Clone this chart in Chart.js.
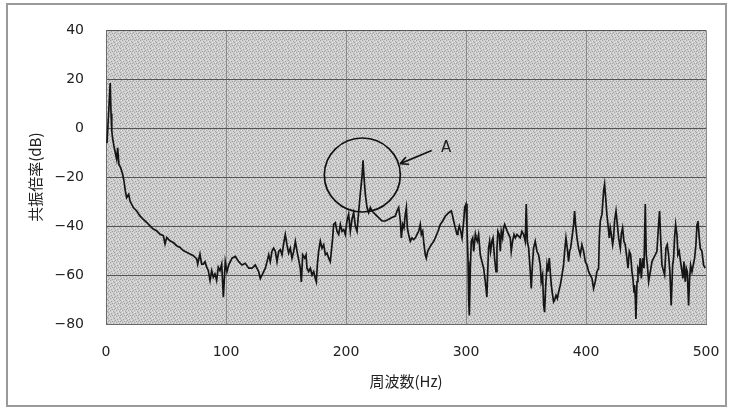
<!DOCTYPE html>
<html>
<head>
<meta charset="utf-8">
<script src="https://cdn.jsdelivr.net/npm/chart.js@4.4.0/dist/chart.umd.min.js"></script>
<style>
  html, body { margin: 0; padding: 0; background: #fff; }
  canvas { display: block; }
</style>
</head>
<body>
<canvas id="myChart" width="733" height="414"></canvas>
<script>
// frequency (Hz) and resonance magnification (dB)
var freqHz = [
    0.8, 1.6, 2.5, 3.5, 4.2, 4.8, 5.5, 6.5, 7.5, 8.9, 9.7, 10.8, 12.2, 13.9, 15.0, 16.1, 17.2, 18.9, 20,
    22.8, 25.6, 28.3, 31.1, 33.9, 36.7, 39.4, 42.2, 45, 47.8, 49.2, 50.6, 53.3, 56.1, 58.9, 61.7, 64.4,
    67.2, 70, 72.8, 75.6, 76.4, 78.3, 79.7, 81.1, 82.5, 83.9, 85.3, 86.7, 88.1, 89.4, 90.8, 92.2, 93.6,
    95, 96.4, 97.8, 99.4, 100.8, 102.2, 105, 107.8, 110.6, 113.3, 116.1, 118.9, 121.7, 124.4, 127.2,
    128.6, 130, 131.4, 132.8, 134.2, 135.6, 136.9, 138.3, 139.7, 141.1, 142.5, 143.9, 145.3, 146.7,
    148.1, 149.4, 150.8, 152.2, 153.6, 155, 156.4, 157.8, 159.2, 160.6, 161.9, 162.8, 163.9, 165.6,
    166.7, 167.5, 168.9, 170.3, 171.7, 173.1, 174.4, 175.3, 176.1, 177.2, 178.6, 180, 181.4, 182.8,
    184.2, 185.6, 186.9, 187.8, 188.9, 189.7, 191.1, 192.5, 193.9, 195.3, 196.7, 198.1, 199.4, 200.8,
    202.2, 203.6, 205, 206.4, 207.8, 209.2, 210.6, 211.9, 213.3, 214.2, 215, 216.1, 217.5, 218.9,
    220.3, 221.7, 224.4, 227.2, 230, 232.8, 235.6, 238.3, 241.1, 242.5, 243.9, 245.3, 246.1, 247.2,
    248.3, 249.4, 250.3, 251.1, 252.2, 253.6, 255, 256.4, 257.8, 259.2, 260.6, 261.9, 262.8, 263.9,
    265, 266.1, 266.9, 268.1, 269.4, 271.1, 273.1, 274.4, 276.7, 278.6, 280.6, 282.8, 285.6, 287.8,
    288.9, 289.7, 291.1, 292.5, 293.3, 294.4, 295.6, 296.7, 298.1, 298.9, 300, 300.8, 301.7, 302.2,
    302.8, 303.6, 304.4, 305.6, 306.4, 307.8, 308.3, 309.4, 310.5, 311.9, 313.3, 314.7, 316.1, 317.4,
    318.3, 318.8, 319.7, 320.5, 321.6, 322.5, 323.8, 325, 325.8, 326.6, 327.7, 328.6, 329.4, 330.5,
    331.3, 332.2, 333.3, 334.4, 335.5, 336.9, 337.7, 338.8, 340, 341.1, 342.5, 343.8, 345.2, 346.6,
    348, 349.4, 350.2, 351.1, 352.2, 353.6, 354.4, 355.2, 356.3, 357.7, 359.1, 360.5, 361.9, 362.7,
    363.8, 364.7, 365.5, 366.3, 367.5, 368.3, 369.4, 370.2, 371.1, 372.2, 373, 373.8, 375, 376.1,
    377.2, 378.6, 380, 381.3, 382.2, 383.3, 384.4, 385.5, 386.3, 387.2, 388.3, 389.7, 390.5, 391.3,
    392.5, 393.8, 395.2, 396.6, 398, 399.4, 400.8, 402.2, 403.6, 405, 406.3, 407.7, 409.1, 410.5,
    411.1, 411.9, 413.3, 414.7, 415.5, 416.6, 417.4, 418.3, 419.4, 420.2, 421.1, 422.2, 423, 423.8,
    425, 426.1, 427.2, 428.6, 429.4, 430.5, 431.6, 432.7, 434.1, 435, 436.1, 437.2, 438.3, 439.1,
    440, 440.5, 441.1, 441.6, 442.5, 443.3, 444.4, 445.2, 446.1, 447.2, 448.3, 449.4, 450.2, 451.1,
    452.2, 453.6, 455, 456.3, 457.7, 459.1, 460.5, 461.3, 462.2, 463.3, 464.7, 465.5, 466.6, 467.7,
    468.8, 469.9, 471, 472.2, 473, 473.8, 474.7, 475.8, 476.6, 477.7, 478.8, 480, 480.8, 481.6,
    482.7, 483.6, 484.4, 485.5, 486.3, 487.2, 488.3, 489.4, 490.5, 491.6, 492.5, 493.3, 494.4, 495.2,
    496.6, 498, 499.4
];
var levelDb = [
    -6, 1, 9, 18.5, 6, -1, -4, -7, -9.4, -12.7, -8, -14.8, -16.1, -18.8, -21.6, -25.6, -28.4, -27, -29.7,
    -32.4, -33.8, -35.8, -37.2, -38.5, -39.9, -41.2, -41.9, -43.3, -43.9, -47.3, -44.6, -46, -46.7, -48, -48.7, -50,
    -50.7, -51.4, -52.1, -53.4, -55.5, -51.4, -55.5, -55.5, -54.5, -56.8, -58.2, -62.2, -58.2, -60.9, -59.5, -62.2, -56.8,
    -58.2, -55.5, -69, -54.5, -58.6, -55.9, -53.1, -52.4, -54.5, -55.9, -55.2, -57.2, -57.2, -55.9, -58.6,
    -61.4, -60, -58.6, -57.2, -54.5, -51.7, -54.5, -50.3, -49, -50.3, -54.5, -50.3, -49.6, -51.7,
    -46.9, -43.4, -47.6, -51, -49, -53.1, -50.3, -46.2, -50.3, -53.8, -57.2, -62.8, -51.7, -53.1,
    -51.7, -57.2, -58.6, -57.2, -60, -58.6, -61.4, -62.8, -55.9, -50.3, -46.2, -49, -47.6, -51.7,
    -51, -53.1, -54.5, -50.3, -44.8, -39.3, -38.6, -42.1, -43.4, -39.3, -42.1, -41.4, -43.4, -37.9,
    -35.2, -42.1, -37.2, -34.5, -40, -42.1, -33.8, -26.9, -20, -13.1, -20, -26.9, -32.4, -34.5,
    -32.4, -33.8, -35.2, -36.5, -37.9, -37.9, -37.2, -36.5, -35.9, -33.8, -32.4, -37.9, -44.8, -39.3,
    -40.7, -35.2, -32.4, -40.7, -43.4, -46.2, -44.8, -45.5, -44.8, -43.4, -42.1, -39.3, -43.4, -42.1,
    -47.6, -51.7, -53.1, -50.3, -49, -47.6, -46.2, -44.8, -42.1, -39.3, -37.9, -35.9, -34.5, -33.8,
    -35.9, -37.9, -40.7, -43.4, -42.1, -40, -42.1, -44.8, -37.9, -32.4, -31, -40.7, -54.5, -69.6,
    -76.5, -57.2, -46.2, -44.8, -50.3, -43.4, -44.8, -46.2, -43.4, -51.7, -54.5, -57.2, -62.7, -69,
    -55.9, -49, -46.2, -50.3, -46.2, -44.8, -53.1, -58.6, -49, -42.1, -43.4, -50.3, -42.1, -44.8,
    -40.7, -39.3, -40.7, -42.1, -43.4, -44.8, -50.3, -46.2, -43.4, -44.8, -43.4, -44.1, -44.8, -42.1,
    -43.4, -46.2, -31, -46.2, -49, -58.6, -65.5, -57.2, -49, -46.2, -50.3, -51.7, -55.9, -62.7,
    -60, -72.4, -75.2, -65.5, -55.9, -58.6, -53.1, -58.6, -64.1, -68.3, -71, -70.3, -68.3, -69.6,
    -66.9, -64.1, -60, -55.9, -50.3, -44.8, -49, -54.5, -50.3, -49, -44.8, -39.3, -33.8, -39.3,
    -44.8, -49, -51.7, -47.6, -50.3, -54.5, -55.9, -58.6, -60, -61.4, -65.5, -62.7, -58.6, -57.2,
    -44.8, -37.9, -35.2, -25.5, -22.8, -29.7, -35.2, -39.3, -44.8, -40.7, -43.4, -47.6, -44.8, -37.9,
    -33.8, -39.3, -44.8, -49, -43.4, -40.7, -46.2, -47.6, -53.1, -57.2, -50.3, -51.7, -58.6, -61.4,
    -66.9, -64.1, -69.6, -77.9, -62.7, -57.2, -58.6, -53.1, -61.4, -53.1, -57.2, -31, -51.7, -55.9,
    -62.7, -58.6, -54.5, -53.1, -51.7, -50.3, -39.3, -33.8, -44.8, -55.9, -58.6, -60, -49, -47.6,
    -51.7, -58.6, -72.4, -55.9, -53.1, -44.8, -39.3, -43.4, -51.7, -50.3, -54.5, -58.6, -61.4, -54.5,
    -62.7, -57.2, -58.6, -72.4, -61.4, -55.9, -58.6, -55.9, -53.1, -47.6, -39.3, -37.9, -44.8, -49,
    -50.3, -55.9, -57.2
];

// axis ranges
var xMin = 0, xMax = 500, xStep = 100;
var yMin = -80, yMax = 40, yStep = 20;

// annotation "A" (in data units)
var circleHz = 213.6, circleDb = -19.1;
var arrowFromHz = 271.4, arrowFromDb = -9.1;
var arrowToHz = 245, arrowToDb = -14.5;
var labelHz = 283.5, labelDb = -8.3;
var labelText = 'A';

var points = freqHz.map(function (f, i) { return { x: f, y: levelDb[i] }; });

function makePattern()
{
    var c = document.createElement('canvas');
    c.width = 6; c.height = 6;
    var g = c.getContext('2d');
    g.fillStyle = '#cdcdcd';
    g.fillRect(0, 0, 6, 6);
    var dark = [[0,0],[3,1],[1,2],[4,3],[2,4],[5,5],[0,3]];
    g.fillStyle = '#a2a2a2';
    dark.forEach(function (p) { g.fillRect(p[0], p[1], 1, 1); });
    var light = [[2,0],[5,2],[1,4],[4,5]];
    g.fillStyle = '#e6e6e6';
    light.forEach(function (p) { g.fillRect(p[0], p[1], 1, 1); });
    return g.createPattern(c, 'repeat');
}

var backdrop = {
    id: 'backdrop',
    beforeDraw: function (chart) {
        var ctx = chart.ctx, a = chart.chartArea;
        ctx.save();
        ctx.fillStyle = '#ffffff';
        ctx.fillRect(0, 0, chart.width, chart.height);
        ctx.strokeStyle = '#9a9a9a';
        ctx.lineWidth = 2;
        ctx.strokeRect(7, 4, 719, 402);
        ctx.fillStyle = makePattern();
        ctx.fillRect(a.left, a.top, a.right - a.left, a.bottom - a.top);
        ctx.restore();
    }
};

var marker = {
    id: 'marker',
    afterDatasetsDraw: function (chart) {
        var ctx = chart.ctx, x = chart.scales.x, y = chart.scales.y;
        var cx = x.getPixelForValue(circleHz), cy = y.getPixelForValue(circleDb);
        ctx.save();
        ctx.strokeStyle = '#111';
        ctx.lineWidth = 1.7;
        ctx.beginPath();
        ctx.ellipse(cx, cy, 38, 37, 0, 0, Math.PI * 2);
        ctx.stroke();

        var x0 = x.getPixelForValue(arrowFromHz), y0 = y.getPixelForValue(arrowFromDb);
        var x1 = x.getPixelForValue(arrowToHz), y1 = y.getPixelForValue(arrowToDb);
        ctx.beginPath();
        ctx.moveTo(x0, y0);
        ctx.lineTo(x1, y1);
        var ang = Math.atan2(y1 - y0, x1 - x0);
        ctx.moveTo(x1, y1);
        ctx.lineTo(x1 - 9 * Math.cos(ang - 0.45), y1 - 9 * Math.sin(ang - 0.45));
        ctx.moveTo(x1, y1);
        ctx.lineTo(x1 - 9 * Math.cos(ang + 0.45), y1 - 9 * Math.sin(ang + 0.45));
        ctx.stroke();

        ctx.fillStyle = '#222';
        ctx.font = '15px "DejaVu Sans"';
        ctx.textAlign = 'center';
        ctx.textBaseline = 'middle';
        ctx.fillText(labelText, x.getPixelForValue(labelHz), y.getPixelForValue(labelDb));
        ctx.restore();
    }
};

var ctx = document.getElementById('myChart').getContext('2d');
var chart = new Chart(ctx, {
    type: 'line',
    data: {
        datasets: [{
            data: points,
            borderColor: '#151515',
            borderWidth: 1.7,
            pointRadius: 0,
            fill: false,
            tension: 0
        }]
    },
    options: {
        responsive: false,
        animation: false,
        devicePixelRatio: 1,
        layout: { padding: { left: 0, top: 29, right: 27, bottom: 20 } },
        plugins: {
            legend: { display: false },
            tooltip: { enabled: false }
        },
        scales: {
            x: {
                type: 'linear',
                min: xMin,
                max: xMax,
                afterFit: function (s) { s.height = 70; s.paddingLeft = 0; s.paddingRight = 0; },
                ticks: {
                    stepSize: xStep,
                    padding: 20,
                    color: '#222',
                    font: { family: 'DejaVu Sans', size: 14 }
                },
                grid: { color: '#8c8c8c', lineWidth: 1, drawTicks: false },
                border: { display: true, color: '#6a6a6a' },
                title: {
                    display: true,
                    text: '周波数(Hz)',
                    color: '#222',
                    font: { family: 'Noto Sans CJK JP', size: 15 },
                    padding: { top: 0, bottom: 4 }
                }
            },
            y: {
                min: yMin,
                max: yMax,
                afterFit: function (s) { s.width = 106; },
                ticks: {
                    stepSize: yStep,
                    padding: 22,
                    color: '#222',
                    font: { family: 'DejaVu Sans', size: 14 },
                    callback: function (v) { return String(v).replace('-', '\u2212'); }
                },
                grid: { color: '#555', lineWidth: 1, drawTicks: false },
                border: { display: true, color: '#6a6a6a' },
                title: {
                    display: true,
                    text: '共振倍率(dB)',
                    color: '#222',
                    font: { family: 'Noto Sans CJK JP', size: 15 },
                    padding: { top: 26, bottom: 0 }
                }
            }
        }
    },
    plugins: [backdrop, marker]
});
</script>
</body>
</html>
